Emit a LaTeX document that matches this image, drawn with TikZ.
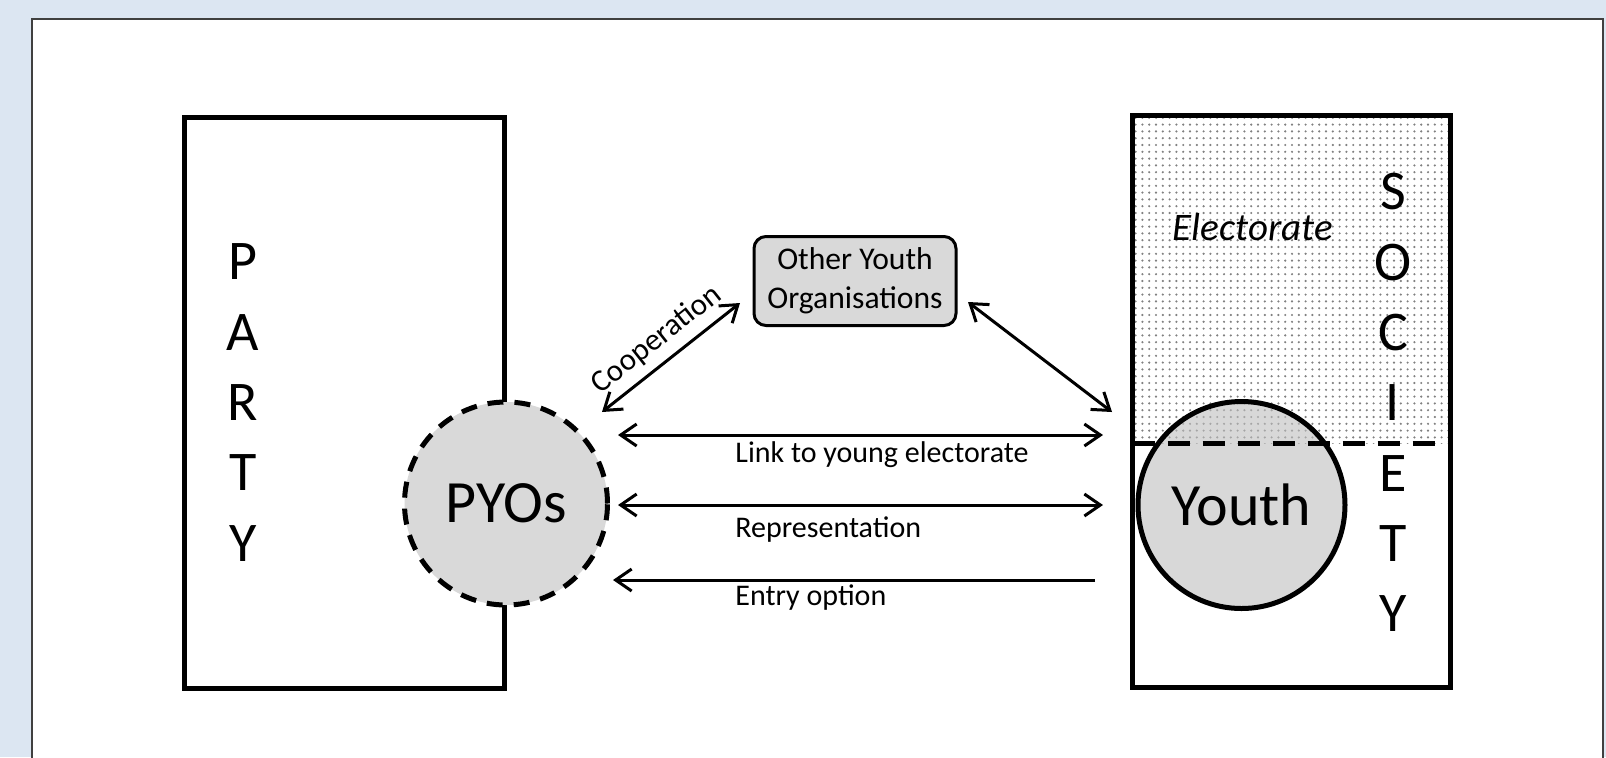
\documentclass[tikz,border=0pt]{standalone}
\usepackage{fontspec}
\setmainfont{Carlito}
\usepackage{tikz}
\usetikzlibrary{arrows.meta, patterns.meta, backgrounds, positioning}
\definecolor{pagebg}{RGB}{220,230,242}
\definecolor{lightfill}{RGB}{217,217,217}
\tikzstyle{block} = [rectangle, line width=2.5pt, draw=black, inner sep=0pt]
\tikzstyle{org} = [rectangle, rounded corners=6pt, line width=1.5pt, draw=black, fill=lightfill, minimum width=101pt, minimum height=44.5pt, align=center, font=\fontsize{15.8}{19.5}\selectfont]
\tikzstyle{pyo} = [circle, line width=2.5pt, draw=black, dash pattern=on 8pt off 5.5pt, fill=lightfill, minimum size=101.5pt, inner sep=0pt, font=\fontsize{30}{32}\selectfont]
\tikzstyle{young} = [circle, line width=2.5pt, draw=black, fill=black!25, fill opacity=0.6, text opacity=1, minimum size=103.5pt, inner sep=0pt, font=\fontsize{30}{32}\selectfont]
\tikzstyle{bigletter} = [font=\fontsize{28}{30}\selectfont, inner sep=0pt]
\tikzstyle{linktext} = [font=\fontsize{15}{17}\selectfont, anchor=base west, inner sep=0pt]
\tikzstyle{divider} = [line width=2.5pt, dash pattern=on 11pt off 6.5pt]
\tikzstyle{arrow} = [line width=1.5pt, >={Straight Barb[length=8pt,width=11pt]}]

\begin{document}
\begin{tikzpicture}[x=0.5pt, y=-0.5pt]
	\clip (0,0) rectangle (1606,757);
	\node (party) [block, minimum width=160pt, minimum height=285.5pt] at (344,402.5) {};
	\node (society) [block, minimum width=159pt, minimum height=286pt] at (1291.5,401.5) {};
	\node (pyos) [pyo] at (506,503.5) {PYOs};
	\node (youth) [young] at (1241.5,505) {Youth};
	\node (other) [org] at (855,281) {Other Youth\\Organisations};
	\node (electorate) [anchor=base, inner sep=0pt, font=\fontsize{19.5}{21}\selectfont\itshape] at (1253,240) {Electorate};
	\foreach \l [count=\i] in {P,A,R,T,Y}
		\node (party\i) [bigletter] at (243,262+70.3*\i-70.3) {\l};
	\foreach \l [count=\i] in {S,O,C,I,E,T,Y}
		\node (society\i) [bigletter] at (1393,192+70.3*\i-70.3) {\l};
	% electorate / youth border
	\coordinate (cut) at (1132.5,443);
	\draw [divider] (cut) -- (cut -| society.east);
	% connectors
	\coordinate (coopA) at (602,412);
	\coordinate (coopB) at (740,303);
	\coordinate (orgA) at (968,302);
	\coordinate (orgB) at (1112,412);
	\coordinate (linkL) at (618,435);
	\coordinate (linkR) at (1103,435);
	\coordinate (reprL) at (618,505);
	\coordinate (reprR) at (1103,505);
	\coordinate (entryL) at (613,580);
	\coordinate (entryR) at (1095,580);
	\draw [arrow, <->] (coopA) -- node (cooptext) [sloped, above, pos=0.5, inner sep=4pt, font=\fontsize{15.5}{17}\selectfont] {Cooperation} (coopB);
	\draw [arrow, <->] (orgA) -- (orgB);
	\draw [arrow, <->] (linkL) -- (linkR);
	\draw [arrow, <->] (reprL) -- (reprR);
	\draw [arrow, ->] (entryR) -- (entryL);
	\node (linklabel) [linktext] at (735,462) {Link to young electorate};
	\node (reprlabel) [linktext] at (735,537) {Representation};
	\node (entrylabel) [linktext] at (735,605) {Entry option};
	\begin{scope}[on background layer]
		\fill [pagebg] (0,0) rectangle (1606,757);
		\draw [line width=1.2pt, draw=black!75, fill=white] (32,19) rectangle (1603,800);
		\fill [pattern={Dots[distance=3.4pt, radius=0.6pt]}, pattern color=black!50] (society.north west) rectangle (cut -| society.east);
	\end{scope}
\end{tikzpicture}
\end{document}
